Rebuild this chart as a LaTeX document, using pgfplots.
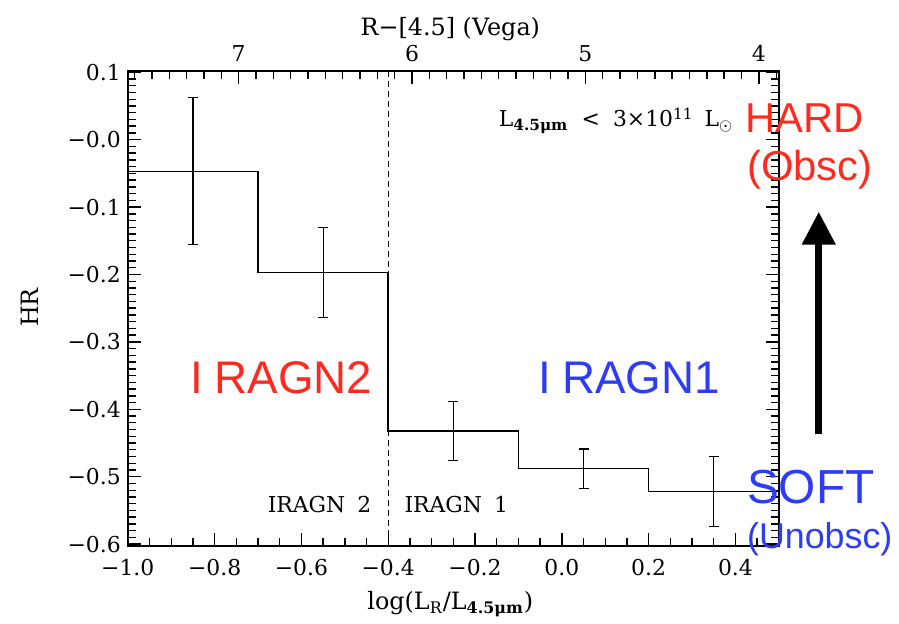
\documentclass[border=0pt]{standalone}
\usepackage{fontspec}
\setmainfont{DejaVu Serif}
\newfontfamily\sansf{Liberation Sans}
\usepackage{pgfplots}
\usepackage{pgfplotstable}
\pgfplotsset{compat=1.18}
\usetikzlibrary{arrows.meta}
\definecolor{hardred}{RGB}{255,42,30}
\definecolor{softblue}{RGB}{45,60,245}
\pgfplotstableread{
x y
-1.0 -0.047
-0.7 -0.197
-0.4 -0.432
-0.1 -0.488
0.2 -0.522
0.5 -0.522
}\steps
\pgfplotstableread{
x y err
-0.85 -0.047 0.109
-0.55 -0.197 0.067
-0.25 -0.432 0.044
0.05 -0.488 0.029
0.35 -0.522 0.052
}\pts
\begin{document}
\begin{tikzpicture}
\begin{scope}[shift={(-64bp,273.5bp)},x=0.5bp,y=-0.5bp]
\path[use as bounding box] (0,0) rectangle (899,623);
\end{scope}
\pgfplotsset{
  common/.style={
    at={(0,0)}, anchor=south west, scale only axis,
    width=326bp, height=238bp,
    axis line style={line width=1bp},
    major tick style={draw=black, line width=0.7bp},
    minor tick style={draw=black, line width=0.7bp},
    major tick length=6.5bp, minor tick length=4bp,
    tick align=inside,
    tick label style={font=\fontsize{11}{13}\selectfont},
  }
}
\begin{axis}[common,
  xmin=-1, xmax=0.5, ymin=-0.603, ymax=0.102,
  xtick={-1,-0.8,-0.6,-0.4,-0.2,0,0.2,0.4},
  xticklabels={−1.0,−0.8,−0.6,−0.4,−0.2,0.0,0.2,0.4},
  minor x tick num=3,
  extra x ticks={0.45}, extra x tick labels={},
  extra x tick style={major tick length=4bp},
  ytick={-0.6,-0.5,-0.4,-0.3,-0.2,-0.1,0,0.1},
  yticklabels={−0.6,−0.5,−0.4,−0.3,−0.2,−0.1,−0.0,0.1},
  minor y tick num=9,
  xtick pos=bottom, ytick pos=both, yticklabel pos=left,
  xticklabel style={yshift=-3bp},
]
\addplot[black, line width=0.8bp, const plot mark left] table[x=x,y=y] {\steps};
\addplot[draw=none, mark=none,
  error bars/.cd, y dir=both, y explicit,
  error bar style={draw=black, solid, line width=0.6bp},
  error mark=-,
  error mark options={rotate=90, draw=black, mark size=2.5bp, line width=0.6bp}]
  table[x=x,y=y,y error=err] {\pts};
\addplot[black, line width=0.7bp, dash pattern=on 3bp off 2bp] coordinates {(-0.4,-0.603) (-0.4,0.102)};
\end{axis}
\begin{axis}[common,
  xmin=3.885, xmax=7.639, x dir=reverse, ymin=0, ymax=1,
  xtick={4,5,6,7}, xticklabels={4,5,6,7},
  minor x tick num=9,
  extra x ticks={7.1,7.2,7.3,7.4,7.5,7.6,3.9}, extra x tick labels={},
  extra x tick style={major tick length=4bp},
  ytick=\empty,
  xtick pos=top, xticklabel pos=top,
  xticklabel style={yshift=1bp},
]
\end{axis}
\begin{scope}[shift={(-64bp,273.5bp)},x=0.5bp,y=-0.5bp]
\node[font=\fontsize{12}{14}\selectfont] at (451,29) {R−[4.5] (Vega)};
\node[font=\fontsize{12}{14}\selectfont] at (451,605) {log(L\textsubscript{R}/L\textsubscript{\bfseries 4.5μm})};
\node[font=\fontsize{12}{14}\selectfont, rotate=90] at (30,308) {HR};
\node[font=\fontsize{11}{13}\selectfont] at (617,121) {L\textsubscript{\bfseries 4.5μm}\hspace{0.6em}<\hspace{0.6em}3×10\textsuperscript{11}\hspace{0.5em}L\textsubscript{$\odot$}};
\node[font=\fontsize{11}{13}\selectfont] at (320,505) {IRAGN\hspace{0.55em}2};
\node[font=\fontsize{11}{13}\selectfont] at (457,505) {IRAGN\hspace{0.55em}1};
\node[font=\sansf\fontsize{23}{26}\selectfont, text=hardred] at (282,378) {I\hspace{0.25em}RAGN2};
\node[font=\sansf\fontsize{23}{26}\selectfont, text=softblue] at (630,378) {I\hspace{0.25em}RAGN1};
\node[font=\sansf\fontsize{21}{24}\selectfont, text=hardred] at (806,118) {HARD};
\node[font=\sansf\fontsize{21}{24}\selectfont, text=hardred] at (811,170) {(Obsc)};
\node[font=\sansf\fontsize{24}{27}\selectfont, text=softblue] at (812,488) {SOFT};
\node[font=\sansf\fontsize{18}{21}\selectfont, text=softblue] at (821,540) {(Unobsc)};
\draw[line width=3.75bp, -{Triangle[length=16.5bp,width=16bp]}] (820,435) -- (820,212);
\end{scope}
\end{tikzpicture}
\end{document}
